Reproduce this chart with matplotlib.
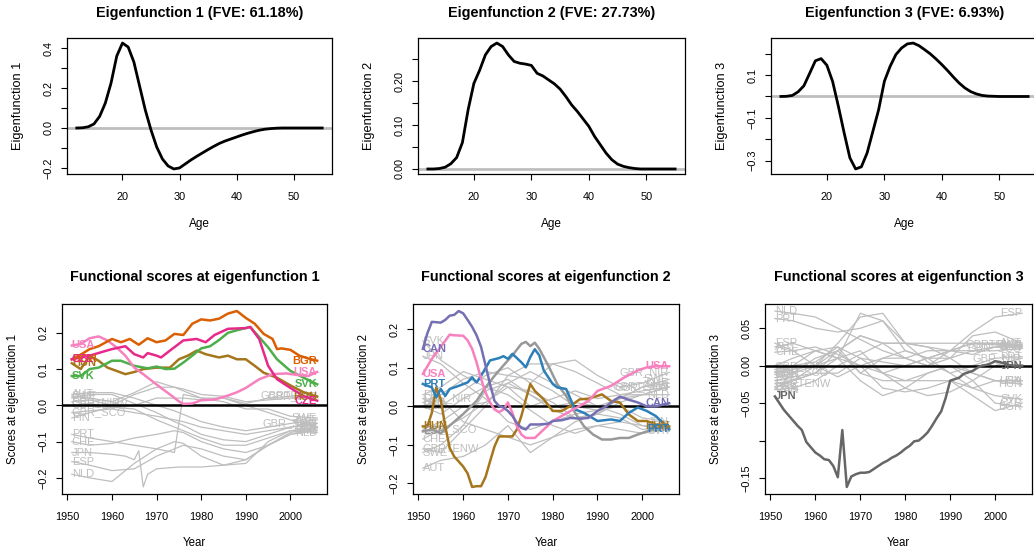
import matplotlib
matplotlib.use("Agg")
import matplotlib.pyplot as plt

plt.rcParams["font.family"] = ["Liberation Sans", "DejaVu Sans"]
plt.rcParams["axes.unicode_minus"] = True

# ---------------- top row: eigenfunctions over age ----------------
AGE = list(range(12, 56))
EIGEN1 = [0.000, 0.001, 0.006, 0.020, 0.058, 0.125, 0.225, 0.360, 0.425, 0.405,
          0.330, 0.210, 0.090, -0.010, -0.095, -0.155, -0.190, -0.205, -0.200, -0.180,
          -0.160, -0.142, -0.125, -0.108, -0.092, -0.077, -0.065, -0.055, -0.045, -0.035,
          -0.026, -0.018, -0.011, -0.006, -0.003, -0.001, 0.000, 0.000, 0.000, 0.000,
          0.000, 0.000, 0.000, 0.000]
EIGEN2 = [0.000, 0.000, 0.001, 0.004, 0.012, 0.026, 0.060, 0.135, 0.195, 0.225,
          0.260, 0.279, 0.287, 0.279, 0.260, 0.245, 0.241, 0.239, 0.236, 0.218,
          0.212, 0.203, 0.194, 0.182, 0.165, 0.146, 0.131, 0.114, 0.097, 0.074,
          0.055, 0.036, 0.021, 0.011, 0.006, 0.003, 0.001, 0.000, 0.000, 0.000,
          0.000, 0.000, 0.000, 0.000]
EIGEN3 = [0.000, 0.001, 0.005, 0.022, 0.050, 0.108, 0.167, 0.177, 0.146, 0.070,
          -0.046, -0.170, -0.287, -0.339, -0.329, -0.264, -0.163, -0.062, 0.071, 0.141,
          0.196, 0.227, 0.246, 0.250, 0.238, 0.219, 0.199, 0.175, 0.149, 0.121,
          0.091, 0.063, 0.040, 0.023, 0.012, 0.005, 0.002, 0.001, 0.000, 0.000,
          0.000, 0.000, 0.000, 0.000]
FVE = [61.18, 27.73, 6.93]

# ---------------- bottom row: functional scores over year ----------------
# panel 1 highlighted countries
BGR1_Y = [1951, 1953, 1955, 1957, 1960, 1962, 1964, 1966, 1968, 1970, 1972, 1974, 1976, 1978, 1980,
          1982, 1984, 1986, 1988, 1990, 1992, 1994, 1996, 1997, 1998, 2000, 2002, 2004, 2006]
BGR1_V = [0.127, 0.140, 0.155, 0.163, 0.183, 0.174, 0.183, 0.167, 0.185, 0.174, 0.179, 0.197, 0.194, 0.225, 0.237,
          0.234, 0.239, 0.253, 0.260, 0.241, 0.225, 0.197, 0.183, 0.155, 0.157, 0.153, 0.137, 0.129, 0.123]
CZE1_Y = [1951, 1955, 1958, 1960, 1963, 1965, 1967, 1968, 1970, 1971, 1973, 1976, 1979, 1981, 1983,
          1986, 1990, 1991, 1993, 1995, 1997, 2000, 2003, 2006]
CZE1_V = [0.127, 0.137, 0.148, 0.155, 0.163, 0.141, 0.132, 0.144, 0.137, 0.132, 0.151, 0.179, 0.183, 0.174, 0.194,
          0.211, 0.213, 0.216, 0.183, 0.109, 0.072, 0.048, 0.025, 0.013]
HUN1_Y = [1951, 1953, 1955, 1957, 1959, 1961, 1963, 1965, 1967, 1970, 1973, 1975, 1977, 1979, 1981,
          1984, 1986, 1988, 1990, 1992, 1994, 1997, 2000, 2003, 2006]
HUN1_V = [0.116, 0.100, 0.137, 0.123, 0.104, 0.095, 0.086, 0.092, 0.100, 0.104, 0.104, 0.127, 0.137, 0.151, 0.141,
          0.132, 0.137, 0.127, 0.127, 0.109, 0.090, 0.076, 0.055, 0.036, 0.024]
SVK1_Y = [1951, 1953, 1955, 1957, 1960, 1962, 1965, 1968, 1970, 1972, 1974, 1976, 1978, 1980, 1982,
          1984, 1986, 1988, 1990, 1991, 1993, 1995, 1997, 2000, 2003, 2006]
SVK1_V = [0.081, 0.081, 0.100, 0.104, 0.123, 0.123, 0.109, 0.102, 0.107, 0.100, 0.101, 0.118, 0.137, 0.157, 0.163,
          0.180, 0.200, 0.207, 0.213, 0.216, 0.188, 0.160, 0.127, 0.095, 0.076, 0.058]
USA1_Y = [1951, 1953, 1955, 1957, 1959, 1961, 1963, 1965, 1967, 1969, 1971, 1973, 1975, 1976, 1978,
          1980, 1983, 1986, 1988, 1990, 1993, 1996, 1999, 2002, 2004, 2006]
USA1_V = [0.165, 0.169, 0.185, 0.190, 0.179, 0.160, 0.137, 0.104, 0.086, 0.067, 0.048, 0.030, 0.011, 0.004, 0.005,
          0.014, 0.016, 0.027, 0.036, 0.048, 0.072, 0.086, 0.088, 0.083, 0.081, 0.092]

# panel 1 background countries
GREY1_Y = [1951, 1955, 1960, 1965, 1970, 1974, 1976, 1980, 1985, 1990, 1995, 2000, 2006]
AUT1 = [0.030, 0.035, 0.035, 0.020, 0.000, -0.015, -0.025, -0.045, -0.060, -0.070, -0.060, -0.050, -0.040]
SWE1 = [0.025, 0.020, 0.010, 0.035, 0.065, 0.050, 0.040, 0.020, 0.010, -0.010, -0.010, -0.030, -0.035]
CAN1 = [0.020, 0.030, 0.030, 0.005, -0.020, -0.045, -0.055, -0.080, -0.095, -0.100, -0.080, -0.060, -0.050]
ENW1 = [0.000, 0.005, -0.005, 0.000, 0.020, 0.020, 0.020, 0.015, 0.020, 0.005, 0.020, 0.025, 0.027]
NIR1 = [0.010, 0.015, 0.000, 0.030, 0.050, 0.050, 0.045, 0.030, 0.025, 0.010, 0.015, 0.020, 0.025]
SCO1 = [-0.020, -0.015, -0.010, -0.020, -0.030, -0.040, -0.045, -0.060, -0.070, -0.080, -0.070, -0.060, -0.050]
FIN1 = [-0.035, -0.020, -0.005, -0.010, -0.040, -0.060, -0.070, -0.090, -0.110, -0.110, -0.090, -0.070, -0.060]
PRT1 = [-0.080, -0.090, -0.100, -0.110, -0.120, -0.130, 0.030, 0.020, 0.020, 0.000, -0.020, -0.040, -0.060]
CHE1 = [-0.100, -0.110, -0.105, -0.090, -0.080, -0.070, -0.075, -0.100, -0.120, -0.130, -0.110, -0.080, -0.070]
ESP1 = [-0.155, -0.165, -0.180, -0.175, -0.140, -0.120, -0.110, -0.120, -0.140, -0.150, -0.110, -0.080, -0.065]
NLD1 = [-0.190, -0.200, -0.210, -0.160, -0.120, -0.100, -0.105, -0.140, -0.165, -0.160, -0.100, -0.070, -0.075]
JPN1_Y = [1951, 1955, 1960, 1963, 1965, 1966, 1967, 1968, 1970, 1975, 1980, 1985, 1990, 1995, 2000, 2006]
JPN1_V = [-0.130, -0.130, -0.135, -0.140, -0.150, -0.125, -0.225, -0.190, -0.175, -0.170, -0.170, -0.165,
          -0.150, -0.110, -0.075, -0.060]

# panel 2 highlighted countries
CAN2_Y = [1951, 1952, 1953, 1955, 1956, 1957, 1958, 1959, 1960, 1961, 1962, 1963, 1964, 1965, 1966,
          1967, 1968, 1969, 1970, 1971, 1972, 1973, 1974, 1975, 1977, 1979, 1980, 1982, 1984, 1986,
          1988, 1990, 1992, 1994, 1995, 1997, 1999, 2001, 2003, 2006]
CAN2_V = [0.149, 0.189, 0.219, 0.217, 0.224, 0.235, 0.237, 0.247, 0.241, 0.224, 0.206, 0.184, 0.154, 0.106, 0.058,
          0.014, 0.001, -0.003, -0.012, -0.025, -0.043, -0.056, -0.060, -0.047, -0.047, -0.045, -0.038, -0.036,
          -0.030, -0.032, -0.030, -0.012, 0.001, 0.018, 0.025, 0.017, 0.010, 0.000, 0.000, 0.008]
USA2_Y = [1951, 1953, 1955, 1957, 1958, 1960, 1961, 1962, 1963, 1964, 1965, 1966, 1967, 1968, 1969,
          1970, 1971, 1972, 1973, 1974, 1976, 1978, 1980, 1982, 1984, 1986, 1988, 1990, 1993, 1996,
          1999, 2001, 2003, 2006]
USA2_V = [0.084, 0.123, 0.154, 0.186, 0.184, 0.183, 0.171, 0.149, 0.114, 0.071, 0.036, 0.010, -0.008, -0.015,
          -0.008, 0.010, -0.017, -0.052, -0.073, -0.082, -0.082, -0.060, -0.038, -0.025, -0.012, 0.001, 0.014,
          0.040, 0.053, 0.075, 0.093, 0.101, 0.104, 0.104]
PRT2_Y = [1951, 1953, 1954, 1955, 1956, 1957, 1959, 1961, 1962, 1963, 1964, 1966, 1968, 1969, 1970,
          1971, 1973, 1974, 1975, 1976, 1977, 1978, 1980, 1981, 1983, 1984, 1985, 1987, 1990, 1993,
          1995, 1997, 1999, 2001, 2003, 2005, 2006]
PRT2_V = [0.058, 0.049, 0.023, 0.045, 0.027, 0.045, 0.053, 0.062, 0.075, 0.062, 0.079, 0.119, 0.125, 0.130,
          0.123, 0.136, 0.114, 0.101, 0.128, 0.148, 0.132, 0.093, 0.058, 0.049, 0.045, 0.018, -0.008, -0.017,
          -0.038, -0.034, -0.038, -0.017, -0.003, -0.012, -0.025, -0.047, -0.060]
HUN2_Y = [1951, 1952, 1953, 1954, 1955, 1956, 1957, 1958, 1960, 1961, 1962, 1963, 1964, 1965, 1966,
          1967, 1968, 1970, 1971, 1972, 1973, 1974, 1975, 1976, 1978, 1980, 1982, 1984, 1986, 1988,
          1990, 1991, 1993, 1995, 1997, 1999, 2001, 2003, 2006]
HUN2_V = [-0.052, -0.052, -0.017, 0.049, 0.018, -0.052, -0.108, -0.130, -0.156, -0.174, -0.209, -0.207,
          -0.207, -0.183, -0.143, -0.104, -0.078, -0.078, -0.078, -0.060, -0.025, 0.018, 0.058, 0.040, 0.018,
          -0.012, -0.012, 0.001, 0.018, 0.020, 0.027, 0.031, 0.014, 0.010, -0.021, -0.038, -0.038, -0.047, -0.052]
ESP2_Y = [1951, 1953, 1955, 1957, 1960, 1963, 1965, 1967, 1969, 1971, 1973, 1974, 1975, 1976, 1977,
          1979, 1981, 1983, 1985, 1987, 1989, 1991, 1993, 1995, 1997, 1999, 2001, 2003, 2006]
ESP2_V = [-0.065, -0.060, -0.070, -0.050, -0.020, 0.014, 0.049, 0.079, 0.106, 0.132, 0.162, 0.167, 0.156,
          0.165, 0.149, 0.106, 0.058, 0.027, -0.017, -0.052, -0.073, -0.086, -0.086, -0.082, -0.082, -0.073,
          -0.065, -0.056, -0.056]

# panel 2 background countries
GREY2_Y = [1951, 1955, 1960, 1965, 1970, 1975, 1980, 1985, 1990, 1995, 2000, 2006]
SVK2 = [0.170, 0.120, 0.080, 0.050, 0.070, 0.030, 0.000, 0.010, 0.000, -0.020, -0.050, -0.065]
JPN2 = [0.130, 0.110, 0.060, 0.020, -0.040, -0.060, -0.040, -0.020, -0.010, 0.000, -0.030, -0.040]
FIN2 = [0.030, 0.050, 0.090, 0.070, 0.050, 0.000, 0.020, 0.040, 0.020, 0.030, 0.040, 0.050]
NLD2 = [0.010, 0.030, 0.070, 0.090, 0.080, 0.110, 0.110, 0.090, 0.060, 0.030, 0.030, 0.030]
CZE2 = [0.000, -0.020, 0.020, 0.050, 0.030, -0.010, -0.050, -0.070, -0.050, -0.040, -0.050, -0.055]
SCO2 = [-0.060, -0.040, 0.000, 0.010, 0.050, 0.040, 0.010, -0.030, -0.020, 0.010, 0.030, 0.050]
CHE2 = [-0.085, -0.060, -0.030, 0.010, 0.060, 0.090, 0.060, 0.030, 0.000, 0.020, 0.050, 0.060]
ENW2 = [-0.110, -0.120, -0.060, 0.000, 0.080, 0.070, 0.040, 0.000, -0.010, 0.020, 0.030, 0.050]
SWE2 = [-0.120, -0.100, -0.050, 0.040, 0.060, 0.030, -0.010, -0.030, -0.020, 0.020, 0.050, 0.070]
AUT2 = [-0.160, -0.140, -0.130, -0.100, -0.050, -0.120, -0.080, -0.040, -0.020, -0.030, -0.060, -0.050]
BGR2 = [0.000, 0.020, -0.040, -0.060, -0.080, -0.100, -0.080, -0.060, -0.050, -0.060, -0.070, -0.060]
NIR2 = [0.020, 0.000, 0.040, 0.080, 0.100, 0.060, 0.110, 0.120, 0.080, 0.050, 0.060, 0.088]

# panel 3 highlighted country
JPN3_Y = list(range(1951, 2007))
JPN3_V = [-0.041, -0.050, -0.059, -0.066, -0.073, -0.080, -0.086, -0.102, -0.109, -0.116,
          -0.120, -0.125, -0.126, -0.134, -0.149, -0.086, -0.162, -0.148, -0.145, -0.143,
          -0.143, -0.142, -0.138, -0.134, -0.130, -0.127, -0.123, -0.120, -0.116, -0.111,
          -0.107, -0.101, -0.100, -0.095, -0.089, -0.080, -0.070, -0.061, -0.043, -0.020,
          -0.018, -0.016, -0.011, -0.009, -0.007, -0.003, 0.000, 0.001, 0.003, 0.006,
          0.005, 0.003, 0.001, 0.000, 0.000, 0.000]

# panel 3 background countries
GREY3_Y = [1951, 1955, 1960, 1965, 1970, 1975, 1980, 1985, 1990, 1995, 2000, 2006]
NLD3 = [0.073, 0.070, 0.065, 0.050, 0.035, 0.020, 0.010, 0.000, 0.010, 0.020, 0.025, 0.025]
PRT3 = [0.063, 0.060, 0.050, 0.045, 0.050, 0.060, 0.030, 0.005, -0.010, 0.000, 0.010, 0.012]
ESP3 = [0.030, 0.020, 0.000, 0.020, 0.040, 0.030, 0.010, 0.000, 0.020, 0.045, 0.065, 0.070]
AUT3 = [0.025, 0.030, 0.020, 0.010, 0.070, 0.060, 0.020, 0.010, 0.010, 0.040, 0.045, 0.030]
CHE3 = [0.018, 0.020, 0.025, 0.015, 0.000, -0.010, 0.000, 0.010, 0.020, 0.030, 0.030, 0.025]
BGR3 = [-0.008, -0.010, 0.010, 0.020, -0.010, -0.020, -0.020, -0.010, 0.000, -0.020, -0.050, -0.055]
HUN3 = [-0.012, 0.000, 0.005, 0.025, -0.010, 0.010, 0.020, 0.010, -0.010, -0.030, -0.020, -0.025]
SCO3 = [-0.009, -0.005, 0.000, -0.015, 0.000, 0.010, 0.010, 0.020, 0.020, 0.020, 0.020, 0.023]
CZE3 = [-0.020, -0.015, -0.010, 0.010, 0.000, -0.030, -0.035, -0.030, -0.020, -0.040, -0.060, -0.050]
ENW3 = [-0.024, -0.020, -0.010, -0.010, 0.010, 0.005, 0.000, 0.010, 0.020, 0.030, 0.030, 0.028]
SVK3 = [-0.016, -0.010, 0.000, 0.010, 0.020, -0.010, -0.020, -0.020, -0.020, -0.030, -0.040, -0.045]
USA3 = [-0.030, -0.020, -0.010, 0.020, 0.040, 0.030, 0.030, 0.025, 0.010, -0.010, -0.020, -0.020]
CAN3 = [-0.032, -0.030, -0.020, 0.000, 0.015, 0.030, 0.030, 0.030, 0.030, 0.030, 0.028, 0.026]
SWE3 = [-0.028, -0.020, 0.000, 0.030, 0.065, 0.070, 0.030, 0.025, 0.020, 0.015, 0.025, 0.027]
FIN3 = [-0.005, 0.000, 0.020, 0.010, -0.020, -0.040, -0.030, -0.010, 0.000, -0.010, -0.020, -0.020]
NIR3 = [0.000, 0.010, 0.020, 0.025, 0.010, -0.010, -0.030, -0.040, -0.035, -0.020, 0.000, 0.010]

GREY = "#BEBEBE"


def style_axis(ax, yticks, ylabels, xticks):
    """R-like box, outward ticks and vertical y tick labels"""
    for sp in ax.spines.values():
        sp.set_linewidth(0.9)
        sp.set_color("black")
    ax.set_xticks(xticks)
    ax.set_xticklabels([str(t) for t in xticks])
    ax.set_yticks(yticks)
    ax.set_yticklabels(ylabels, rotation=90, va="center")
    ax.tick_params(direction="out", length=4.5, width=0.8, labelsize=7.8, colors="black")
    ax.tick_params(axis="x", pad=8.5)
    ax.tick_params(axis="y", pad=5)
    ax.margins(x=0.04, y=0.04)


fig = plt.figure(figsize=(10.34, 5.54), dpi=100)
W, H = 1034.0, 554.0


def add_axes(left, top, right, bottom):
    return fig.add_axes([left / W, 1 - bottom / H, (right - left) / W, (bottom - top) / H])


# ---------- top row ----------
top_boxes = [(67, 38, 332, 174), (418, 38, 685, 174), (771, 38, 1038, 174)]
eigens = [EIGEN1, EIGEN2, EIGEN3]
top_yt = [
    ([-0.2, -0.1, 0.0, 0.1, 0.2, 0.3, 0.4], ["\u22120.2", "", "0.0", "", "0.2", "", "0.4"]),
    ([0.0, 0.05, 0.10, 0.15, 0.20, 0.25], ["0.00", "", "0.10", "", "0.20", ""]),
    ([-0.3, -0.2, -0.1, 0.0, 0.1, 0.2], ["\u22120.3", "", "\u22120.1", "", "0.1", ""]),
]
for i in range(3):
    l, t, r, b = top_boxes[i]
    ax = add_axes(l, t, r, b)
    ax.axhline(0, color=GREY, lw=2.0, zorder=1)
    ax.plot(AGE, eigens[i], color="black", lw=2.0, zorder=2)
    style_axis(ax, top_yt[i][0], top_yt[i][1], [20, 30, 40, 50])
    ax.set_xlabel("Age", fontsize=8.5, va="center")
    ax.xaxis.set_label_coords(0.5, -50 / (b - t))
    ax.set_ylabel("Eigenfunction %d" % (i + 1), fontsize=9.2, va="center")
    ax.yaxis.set_label_coords(-49 / (r - l), 0.5)
    fig.text((l + r) / 2 / W, 1 - 13 / H, "Eigenfunction %d (FVE: %.2f%%)" % (i + 1, FVE[i]),
             ha="center", va="center", fontsize=10.4, fontweight="bold")

# ---------- bottom row ----------
bot_boxes = [(62, 304, 327, 494), (413, 304, 679, 494), (765, 304, 1032, 494)]

panels = [
    {
        "grey": (GREY1_Y, [("AUT", AUT1), ("SWE", SWE1), ("CAN", CAN1), ("GBRTENW", ENW1),
                           ("GBR_NIR", NIR1), ("GBR_SCO", SCO1), ("FIN", FIN1), ("PRT", PRT1),
                           ("CHE", CHE1), ("ESP", ESP1), ("NLD", NLD1)]),
        "grey_extra": [("JPN", JPN1_Y, JPN1_V)],
        "hi": [("HUN", HUN1_Y, HUN1_V, "#A6761D"), ("SVK", SVK1_Y, SVK1_V, "#4DAF4A"),
               ("USA", USA1_Y, USA1_V, "#F781BF"), ("BGR", BGR1_Y, BGR1_V, "#D95F02"),
               ("CZE", CZE1_Y, CZE1_V, "#E7298A")],
        "yt": ([-0.2, -0.1, 0.0, 0.1, 0.2], ["\u22120.2", "\u22120.1", "0.0", "0.1", "0.2"]),
    },
    {
        "grey": (GREY2_Y, [("SVK", SVK2), ("JPN", JPN2), ("FIN", FIN2), ("NLD", NLD2), ("CZE", CZE2),
                           ("GBR_SCO", SCO2), ("CHE", CHE2), ("GBRTENW", ENW2), ("SWE", SWE2),
                           ("AUT", AUT2), ("BGR", BGR2), ("GBR_NIR", NIR2)]),
        "grey_extra": [],
        "hi": [("ESP", ESP2_Y, ESP2_V, "#999999"), ("HUN", HUN2_Y, HUN2_V, "#A6761D"),
               ("PRT", PRT2_Y, PRT2_V, "#2C7FB8"), ("USA", USA2_Y, USA2_V, "#F781BF"),
               ("CAN", CAN2_Y, CAN2_V, "#7570B3")],
        "yt": ([-0.2, -0.1, 0.0, 0.1, 0.2], ["\u22120.2", "\u22120.1", "0.0", "0.1", "0.2"]),
    },
    {
        "grey": (GREY3_Y, [("NLD", NLD3), ("PRT", PRT3), ("ESP", ESP3), ("AUT", AUT3), ("CHE", CHE3),
                           ("BGR", BGR3), ("HUN", HUN3), ("GBR_SCO", SCO3), ("CZE", CZE3),
                           ("GBRTENW", ENW3), ("SVK", SVK3), ("USA", USA3), ("CAN", CAN3),
                           ("SWE", SWE3), ("FIN", FIN3), ("GBR_NIR", NIR3)]),
        "grey_extra": [],
        "hi": [("JPN", JPN3_Y, JPN3_V, "#666666")],
        "yt": ([-0.15, -0.10, -0.05, 0.0, 0.05], ["\u22120.15", "", "\u22120.05", "0.00", "0.05"]),
    },
]

for i, p in enumerate(panels):
    l, t, r, b = bot_boxes[i]
    ax = add_axes(l, t, r, b)
    gy, glist = p["grey"]
    series = [(name, gy, vals) for name, vals in glist] + p["grey_extra"]
    for name, ys, vs in series:
        ax.plot(ys, vs, color=GREY, lw=0.9, zorder=1)
        ax.text(ys[0], vs[0], name, color=GREY, fontsize=8, ha="left", va="center", zorder=1)
        ax.text(ys[-1], vs[-1], name, color=GREY, fontsize=8, ha="right", va="center", zorder=1)
    ax.axhline(0, color="black", lw=1.8, zorder=2)
    for name, ys, vs, col in p["hi"]:
        ax.plot(ys, vs, color=col, lw=1.8, zorder=3)
        ax.text(ys[0], vs[0], name, color=col, fontsize=8, fontweight="bold",
                ha="left", va="center", zorder=4)
        ax.text(ys[-1], vs[-1], name, color=col, fontsize=8, fontweight="bold",
                ha="right", va="center", zorder=4)
    style_axis(ax, p["yt"][0], p["yt"][1], [1950, 1960, 1970, 1980, 1990, 2000])
    ax.set_xlabel("Year", fontsize=8.3, va="center")
    ax.xaxis.set_label_coords(0.5, -49 / (b - t))
    ax.set_ylabel("Scores at eigenfunction %d" % (i + 1), fontsize=8.3, va="center")
    ax.yaxis.set_label_coords(-49 / (r - l), 0.5)
    fig.text((l + r) / 2 / W, 1 - 277 / H, "Functional scores at eigenfunction %d" % (i + 1),
             ha="center", va="center", fontsize=10.4, fontweight="bold")

fig.savefig("out.png", dpi=100)
